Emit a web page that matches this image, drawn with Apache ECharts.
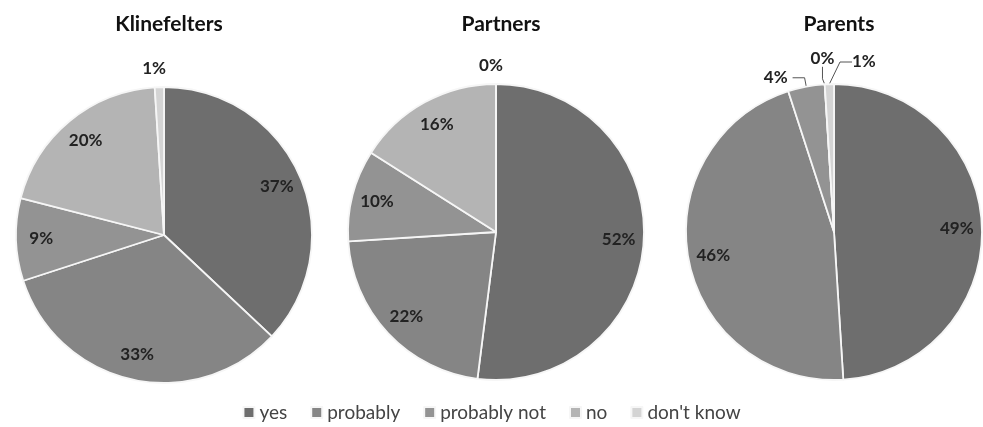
<!DOCTYPE html>
<html><head><meta charset="utf-8">
<script src="https://cdn.jsdelivr.net/npm/echarts@6/dist/echarts.min.js"></script>
<style>html,body{margin:0;padding:0;background:#fff}#c{width:983px;height:427px}</style>
</head><body><div id="c"></div>
<script>
const categories = ['yes', 'probably', 'probably not', 'no', "don't know"];
const groups = ['Klinefelters', 'Partners', 'Parents'];
const klinefelters = [37, 33, 9, 20, 1];
const partners = [52, 22, 10, 16, 0];
const parents = [49, 46, 4, 0, 1];
const groupValues = [klinefelters, partners, parents];

const colors = ['#6e6e6e', '#858585', '#939393', '#b4b4b4', '#d4d4d4'];
const centers = [[164, 235], [496, 232], [834, 232]];
const R = 148;
const FONT = 'Lato, "Open Sans", sans-serif';

const chart = echarts.init(document.getElementById('c'), null, {renderer: 'canvas'});
const series = [];
groupValues.forEach((vals, gi) => {
  const data = categories.map((n, i) => ({name: n, value: vals[i]}));
  series.push({
    type: 'pie', center: centers[gi], radius: R, startAngle: 90, clockwise: true,
    silent: true, label: {show: false}, labelLine: {show: false},
    itemStyle: {borderColor: '#f6f6f6', borderWidth: 1.8},
    emphasis: {disabled: true},
    color: colors, data: data
  });
  series.push({
    type: 'pie', center: centers[gi], radius: [R * 0.62, R], startAngle: 90, clockwise: true,
    silent: true, avoidLabelOverlap: false,
    itemStyle: {color: 'rgba(0,0,0,0)', borderWidth: 0},
    emphasis: {disabled: true},
    labelLine: gi === 2
      ? {show: true, length: 9, length2: 12, smooth: false, lineStyle: {color: '#555', width: 1}}
      : {show: false, length: 10, length2: 0},
    labelLayout: function (p) {
      const v = vals[p.dataIndex];
      if (v >= 5) return {};
      if (gi < 2) return {align: 'center', verticalAlign: 'bottom'};
      if (p.dataIndex === 3) {
        return {x: p.rect.x + p.rect.width / 2 - 4, y: p.rect.y - 26, align: 'center', verticalAlign: 'middle'};
      }
      if (p.dataIndex === 4) {
        return {x: p.rect.x + p.rect.width + 18, y: p.rect.y - 22, align: 'left', verticalAlign: 'middle'};
      }
      return {};
    },
    data: data.map(d => ({
      name: d.name, value: d.value,
      label: {
        show: true,
        position: d.value < 5 ? 'outside' : 'inside',
        formatter: d.value + '%',
        color: '#222', fontFamily: FONT, fontSize: 17, fontWeight: 'bold'
      }
    }))
  });
});

chart.setOption({
  animation: false,
  backgroundColor: '#fff',
  color: colors,
  title: groups.map((g, i) => ({
    text: g, left: centers[i][0], top: 9, textAlign: 'center',
    textStyle: {fontFamily: FONT, fontSize: 21, fontWeight: 'bold', color: '#111'}
  })),
  legend: {
    data: categories, bottom: 0, left: 'center', icon: 'rect',
    itemWidth: 11, itemHeight: 11, itemGap: 23,
    textStyle: {fontFamily: FONT, fontSize: 19, color: '#444'}
  },
  series: series
});
</script></body></html>
